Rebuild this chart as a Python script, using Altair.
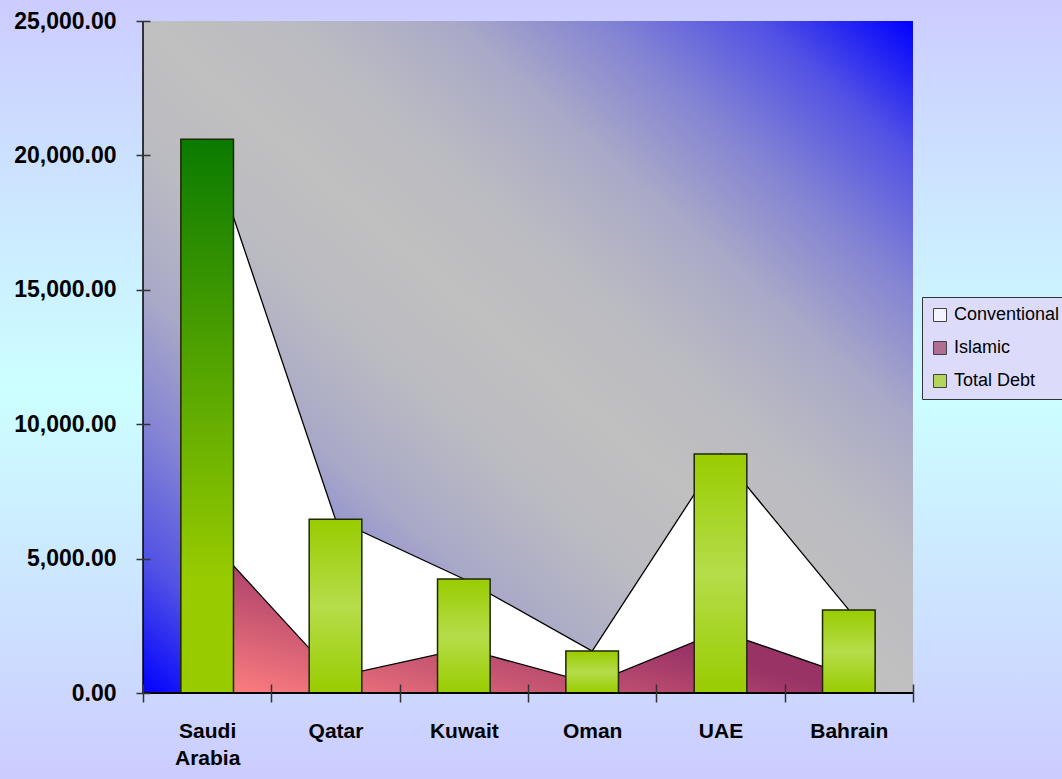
import altair as alt
import pandas as pd

# GCC outstanding debt by country
countries = ["Saudi Arabia", "Qatar", "Kuwait", "Oman", "UAE", "Bahrain"]
islamic = [5800, 600, 1650, 350, 2300, 650]
conventional = [14800, 5860, 2590, 1210, 6590, 2440]
total_debt = [20600, 6460, 4240, 1560, 8890, 3090]
series_names = ["Conventional", "Islamic", "Total Debt"]
y_ticks = [0, 5000, 10000, 15000, 20000, 25000]

W, H = 770, 672
PAD = {"left": 143, "top": 21, "right": 149, "bottom": 86}
FONT = "Liberation Sans"

df = pd.DataFrame({
    "country": countries,
    "islamic": islamic,
    "conventional": conventional,
    "total": total_debt,
})
legend_df = pd.DataFrame({"country": countries[0], "series": series_names, "v": 0})


def grad(stops, x1, y1, x2, y2):
    return alt.LinearGradient(
        gradient="linear",
        stops=[alt.GradientStop(color=c, offset=o) for o, c in stops],
        x1=x1, y1=y1, x2=x2, y2=y2,
    )


page_fill = grad([(0, "#CCCCFF"), (0.5, "#CCFFFF"), (1, "#CCCCFF")], 0, 0, 0, 1)
plot_fill = grad([
    (0.0, "#0000FF"), (0.1, "#5151E5"), (0.2, "#8383D4"), (0.3, "#A9A9C8"),
    (0.4, "#BABAC2"), (0.5, "#C0C0C0"), (0.6, "#BABAC2"), (0.7, "#A9A9C8"),
    (0.8, "#8383D4"), (0.9, "#5151E5"), (1.0, "#0000FF"),
], 1, 0, 0, 1)
islamic_fill = grad([(0, "#FF8080"), (1, "#993366")], 0, 1, 0.55, 0.5)
saudi_fill = grad([(0, "#0A7A00"), (0.8, "#99CC00"), (1, "#99CC00")], 0, 0, 0, 1)
bar_fill = grad([(0, "#99CC00"), (0.5, "#B5DD4A"), (1, "#99CC00")], 0, 0, 0, 1)

x_enc = alt.X(
    "country:N",
    sort=countries,
    scale=alt.Scale(domain=countries, paddingInner=0, paddingOuter=0),
    axis=alt.Axis(
        title=None, domain=False, tickBand="extent", offset=-9, tickSize=18,
        tickColor="#333333", tickWidth=1.5, labelPadding=18,
        labelExpr="split(datum.label, ' ')", labelLineHeight=27,
        labelFont=FONT, labelFontSize=21,
        labelFontWeight="bold", labelColor="black", labelAngle=0,
        zindex=1,
    ),
)
y_scale = alt.Scale(domain=[0, 25000], nice=False)
y_axis = alt.Axis(
    title=None, domain=False, values=y_ticks, format=",.2f", offset=-7,
    tickSize=14, tickColor="#333333", tickWidth=1.5, labelPadding=20,
    labelFont=FONT, labelFontSize=23, labelFontWeight="bold",
    labelColor="black", grid=False, zindex=1, labelFlush=False,
)

one = alt.Data(values=[{}])

page_bg = alt.Chart(one).mark_rect(color=page_fill).encode(
    x=alt.value(-PAD["left"]), x2=alt.value(W + PAD["right"]),
    y=alt.value(-PAD["top"]), y2=alt.value(H + PAD["bottom"]),
)
plot_bg = alt.Chart(one).mark_rect(color=plot_fill).encode(
    x=alt.value(0), x2=alt.value(W), y=alt.value(0), y2=alt.value(H),
)

# legend entries, drawn as tiny points hidden under the first bar
legend_pts = alt.Chart(legend_df).mark_point(filled=True, shape="square", size=1).encode(
    x=x_enc,
    y=alt.Y("v:Q", scale=y_scale, axis=y_axis),
    color=alt.Color(
        "series:N",
        scale=alt.Scale(domain=series_names, range=["#FFFFFF", "#A0406A", "#A4D11A"]),
        legend=alt.Legend(
            title=None, orient="none", legendX=779, legendY=276,
            fillColor="#DCDCFA", strokeColor="#333333", padding=9,
            symbolType="square", symbolSize=169, symbolStrokeColor="black",
            symbolStrokeWidth=1, labelFont=FONT,
            labelFontSize=18, labelColor="black", labelOffset=5, rowPadding=15,
            zindex=1,
        ),
    ),
)

base = alt.Chart(df)

conv_area = base.transform_calculate(top="datum.islamic + datum.conventional").mark_area(
    color="white", opacity=1, line=alt.OverlayMarkDef(color="black", strokeWidth=1.3)
).encode(x=x_enc, y=alt.Y("top:Q", scale=y_scale))

isl_area = base.mark_area(
    color=islamic_fill, opacity=1, line=alt.OverlayMarkDef(color="black", strokeWidth=1.3)
).encode(x=x_enc, y=alt.Y("islamic:Q", scale=y_scale))

bars_rest = base.transform_filter(alt.datum.country != countries[0]).mark_bar(
    color=bar_fill, opacity=1, stroke="#1F2600", strokeWidth=1.5,
    width=alt.RelativeBandSize(0.41),
).encode(x=x_enc, y=alt.Y("total:Q", scale=y_scale))

bar_saudi = base.transform_filter(alt.datum.country == countries[0]).mark_bar(
    color=saudi_fill, opacity=1, stroke="#1F2600", strokeWidth=1.5,
    width=alt.RelativeBandSize(0.41),
).encode(x=x_enc, y=alt.Y("total:Q", scale=y_scale))

# axis lines
x_line = alt.Chart(one).mark_rule(color="black", strokeWidth=2).encode(
    x=alt.value(0), x2=alt.value(W), y=alt.value(H)
)
y_line = alt.Chart(one).mark_rule(color="black", strokeWidth=1.5).encode(
    x=alt.value(0), y=alt.value(0), y2=alt.value(H)
)

chart = alt.layer(
    page_bg, plot_bg, legend_pts, conv_area, isl_area, bars_rest, bar_saudi, x_line, y_line
).properties(
    width=W, height=H, padding=PAD, autosize=alt.AutoSizeParams(type="none"),
    background="#CCCCFF",
).configure_view(strokeWidth=0)

chart.save("out.html", embed_options={"renderer": "svg", "actions": False})
